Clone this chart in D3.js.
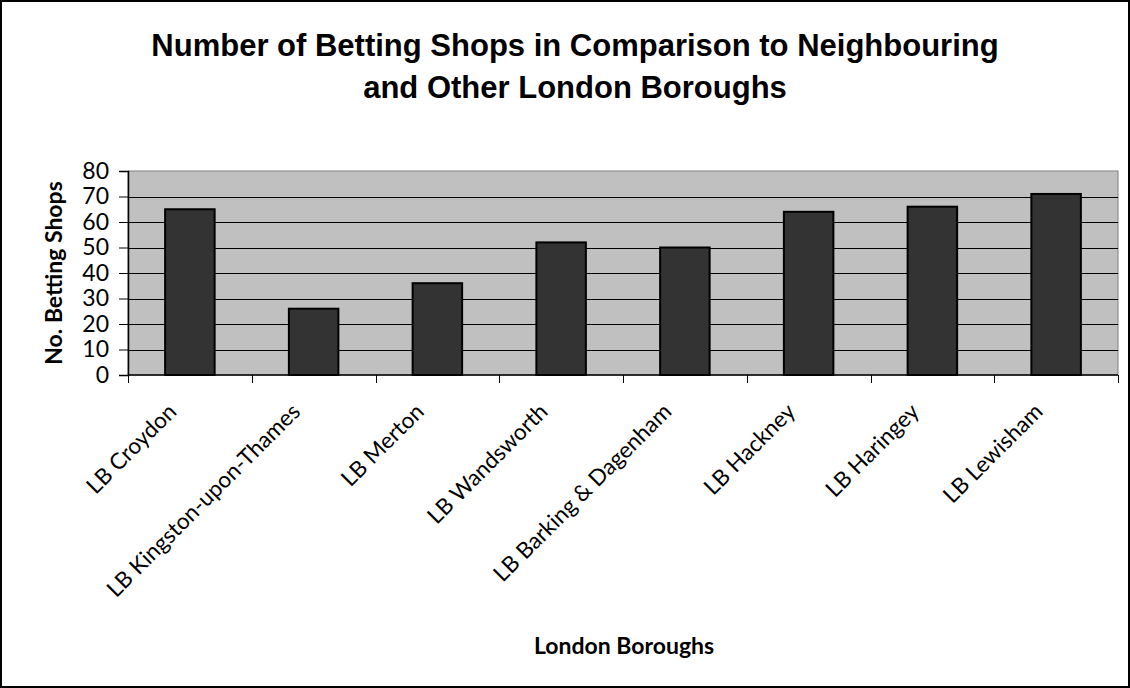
<!DOCTYPE html>
<html><head><meta charset="utf-8">
<script src="https://cdn.jsdelivr.net/npm/d3@7"></script>
<style>html,body{margin:0;padding:0;background:#fff;}svg{display:block;}</style>
</head><body>
<svg id="c" width="1130" height="688"></svg>
<script>
const categories = ["LB Croydon","LB Kingston-upon-Thames","LB Merton","LB Wandsworth","LB Barking & Dagenham","LB Hackney","LB Haringey","LB Lewisham"];
const values = [65, 26, 36, 52, 50, 64, 66, 71];
const yTicks = [0,10,20,30,40,50,60,70,80];
const titleLines = ["Number of Betting Shops in Comparison to Neighbouring","and Other London Boroughs"];
const yTitle = "No. Betting Shops";
const xTitle = "London Boroughs";

const svg = d3.select("#c");
const W = 1130, H = 688;
const m = {left:128, right:1118, top:171, bottom:375};
const bodyFont = "Lato, 'Open Sans', sans-serif";

svg.append("rect").attr("x",1).attr("y",1).attr("width",W-2).attr("height",H-2)
  .attr("fill","#fff").attr("stroke","#000").attr("stroke-width",2);

const x = d3.scaleBand().domain(categories).range([m.left,m.right]).paddingInner(0.6).paddingOuter(0.3);
const y = d3.scaleLinear().domain([0,80]).range([m.bottom,m.top]);

svg.append("rect").attr("x",m.left).attr("y",m.top).attr("width",m.right-m.left).attr("height",m.bottom-m.top)
  .attr("fill","#c0c0c0").attr("stroke","#808080").attr("stroke-width",1);

// gridlines
svg.append("g").selectAll("line").data(yTicks.filter(d=>d>0 && d<80)).join("line")
  .attr("x1",m.left).attr("x2",m.right).attr("y1",d=>Math.round(y(d))+0.5).attr("y2",d=>Math.round(y(d))+0.5)
  .attr("stroke","#000").attr("stroke-width",1);

// bars
svg.append("g").selectAll("rect").data(values).join("rect")
  .attr("x",(d,i)=>x(categories[i])).attr("width",x.bandwidth())
  .attr("y",d=>y(d)).attr("height",d=>y(0)-y(d))
  .attr("fill","#333333").attr("stroke","#000").attr("stroke-width",2);

// y axis
const yAxis = svg.append("g").attr("transform",`translate(${m.left},0)`)
  .call(d3.axisLeft(y).tickValues(yTicks).tickSize(9).tickPadding(10));
yAxis.select(".domain").attr("stroke","#000").attr("stroke-width",1.5);
yAxis.selectAll(".tick line").attr("stroke","#000");
yAxis.selectAll("text").attr("font-family",bodyFont).attr("font-size",23).attr("fill","#000");

// x axis line + ticks at category boundaries
const bounds = d3.range(categories.length+1).map(i=>m.left + i*(m.right-m.left)/categories.length);
svg.append("line").attr("x1",m.left).attr("x2",m.right).attr("y1",m.bottom).attr("y2",m.bottom)
  .attr("stroke","#000").attr("stroke-width",1.5);
svg.append("g").selectAll("line").data(bounds).join("line")
  .attr("x1",d=>Math.round(d)+0.5).attr("x2",d=>Math.round(d)+0.5).attr("y1",m.bottom).attr("y2",m.bottom+8)
  .attr("stroke","#000").attr("stroke-width",1);

// category labels
svg.append("g").selectAll("text").data(categories).join("text")
  .attr("transform",d=>`translate(${x(d)+x.bandwidth()/2-12},${m.bottom+38}) rotate(-45)`)
  .attr("text-anchor","end")
  .attr("font-family",bodyFont).attr("font-size",22.5).attr("fill","#000")
  .text(d=>d);

// titles
svg.append("g").selectAll("text").data(titleLines).join("text")
  .attr("x",575).attr("y",(d,i)=>56+i*42).attr("text-anchor","middle")
  .attr("font-family","'Liberation Sans', Arial, sans-serif").attr("font-weight","bold").attr("font-size",31)
  .text(d=>d);

svg.append("text").attr("transform",`translate(62,${(m.top+m.bottom)/2}) rotate(-90)`)
  .attr("text-anchor","middle").attr("font-family",bodyFont).attr("font-weight","bold").attr("font-size",23)
  .text(yTitle);

svg.append("text").attr("x",624).attr("y",654).attr("text-anchor","middle")
  .attr("font-family",bodyFont).attr("font-weight","bold").attr("font-size",23)
  .text(xTitle);
</script>
</body></html>
